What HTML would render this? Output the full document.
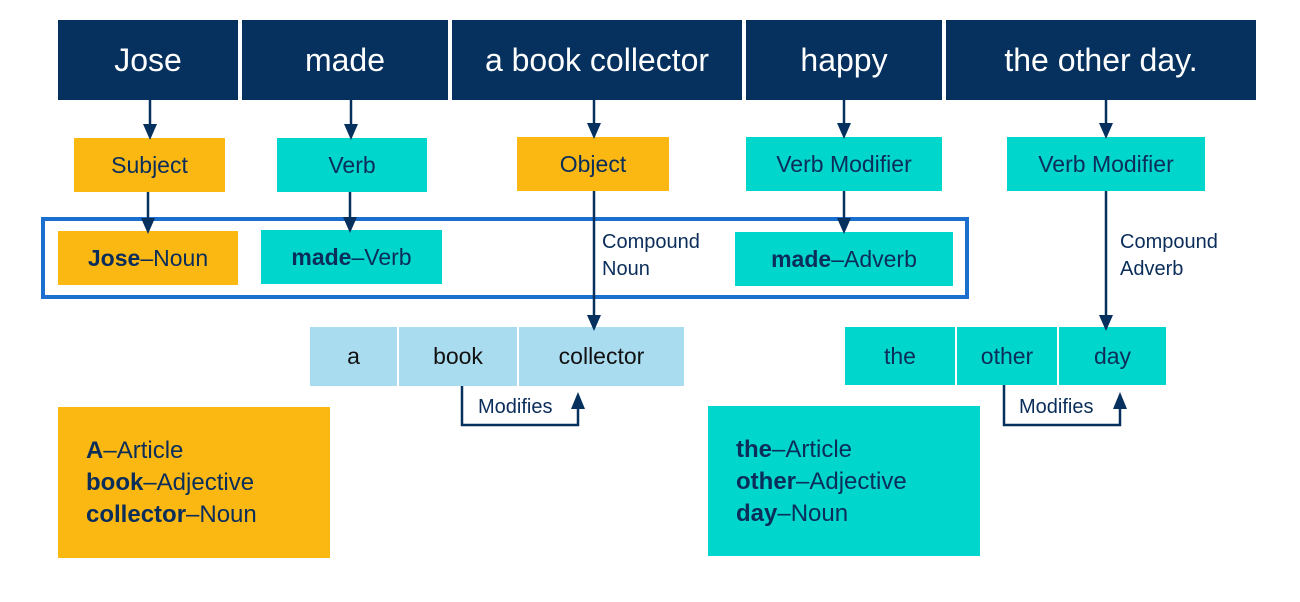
<!DOCTYPE html>
<html><head><meta charset="utf-8"><style>
body{margin:0;width:1300px;height:602px;background:#fff;position:relative;overflow:hidden;font-family:"Liberation Sans",sans-serif;color:#0a2d5a}
.b{position:absolute;display:flex;align-items:center;justify-content:center;box-sizing:border-box}
.n{background:#06315e;color:#fff;font-size:32px;top:20px;height:80px}
.o{background:#fbb813}
.t{background:#00d6cb}
.l{background:#aadcf0;color:#111}
.m{font-size:23px}
.lbl{position:absolute;font-size:20px;line-height:27px;color:#0a2d5a}
.box{position:absolute;font-size:24px;line-height:32px;padding:28px 0 0 28px;box-sizing:border-box}
b{font-weight:bold}
</style></head><body>
<div class="b n" style="left:58px;width:180px">Jose</div>
<div class="b n" style="left:242px;width:206px">made</div>
<div class="b n" style="left:452px;width:290px">a book collector</div>
<div class="b n" style="left:746px;width:196px">happy</div>
<div class="b n" style="left:946px;width:310px">the other day.</div>

<div class="b o m" style="left:74px;top:138px;width:151px;height:54px">Subject</div>
<div class="b t m" style="left:277px;top:138px;width:150px;height:54px">Verb</div>
<div class="b o m" style="left:517px;top:137px;width:152px;height:54px">Object</div>
<div class="b t m" style="left:746px;top:137px;width:196px;height:54px">Verb Modifier</div>
<div class="b t m" style="left:1007px;top:137px;width:198px;height:54px">Verb Modifier</div>

<div style="position:absolute;left:41px;top:217px;width:928px;height:82px;border:4px solid #1a6fcf;box-sizing:border-box"></div>
<div class="b o m" style="left:58px;top:231px;width:180px;height:54px"><b>Jose</b>–Noun</div>
<div class="b t m" style="left:261px;top:230px;width:181px;height:54px"><b>made</b>–Verb</div>
<div class="b t m" style="left:735px;top:232px;width:218px;height:54px"><b>made</b>–Adverb</div>

<div class="lbl" style="left:602px;top:229px">Compound<br>Noun</div>
<div class="lbl" style="left:1120px;top:229px">Compound<br>Adverb</div>

<div class="b l m" style="left:310px;top:327px;width:87px;height:59px">a</div>
<div class="b l m" style="left:399px;top:327px;width:118px;height:59px">book</div>
<div class="b l m" style="left:519px;top:327px;width:165px;height:59px">collector</div>
<div class="b t m" style="left:845px;top:327px;width:110px;height:58px">the</div>
<div class="b t m" style="left:957px;top:327px;width:100px;height:58px">other</div>
<div class="b t m" style="left:1059px;top:327px;width:107px;height:58px">day</div>

<div class="lbl" style="left:478px;top:394px">Modifies</div>
<div class="lbl" style="left:1019px;top:394px">Modifies</div>

<div class="box o" style="left:58px;top:407px;width:272px;height:151px"><b>A</b>–Article<br><b>book</b>–Adjective<br><b>collector</b>–Noun</div>
<div class="box t" style="left:708px;top:406px;width:272px;height:150px"><b>the</b>–Article<br><b>other</b>–Adjective<br><b>day</b>–Noun</div>

<svg width="1300" height="602" style="position:absolute;left:0;top:0" fill="#06315e" stroke="#06315e">
<g stroke-width="2.5" fill="none">
<line x1="150" y1="100" x2="150" y2="128"/>
<line x1="351" y1="100" x2="351" y2="128"/>
<line x1="594" y1="100" x2="594" y2="127"/>
<line x1="844" y1="100" x2="844" y2="127"/>
<line x1="1106" y1="100" x2="1106" y2="127"/>
<line x1="148" y1="192" x2="148" y2="222"/>
<line x1="350" y1="192" x2="350" y2="221"/>
<line x1="844" y1="191" x2="844" y2="222"/>
<line x1="594" y1="191" x2="594" y2="318"/>
<line x1="1106" y1="191" x2="1106" y2="318"/>
<polyline points="462,386 462,425 578,425 578,405"/>
<polyline points="1004,385 1004,425 1120,425 1120,405"/>
</g>
<g stroke="none">
<polygon points="143,124 157,124 150,140"/>
<polygon points="344,124 358,124 351,140"/>
<polygon points="587,123 601,123 594,139"/>
<polygon points="837,123 851,123 844,139"/>
<polygon points="1099,123 1113,123 1106,139"/>
<polygon points="141,218 155,218 148,234"/>
<polygon points="343,217 357,217 350,233"/>
<polygon points="837,218 851,218 844,234"/>
<polygon points="587,315 601,315 594,331"/>
<polygon points="1099,315 1113,315 1106,331"/>
<polygon points="571,409 585,409 578,392"/>
<polygon points="1113,409 1127,409 1120,392"/>
</g>
</svg>
</body></html>
